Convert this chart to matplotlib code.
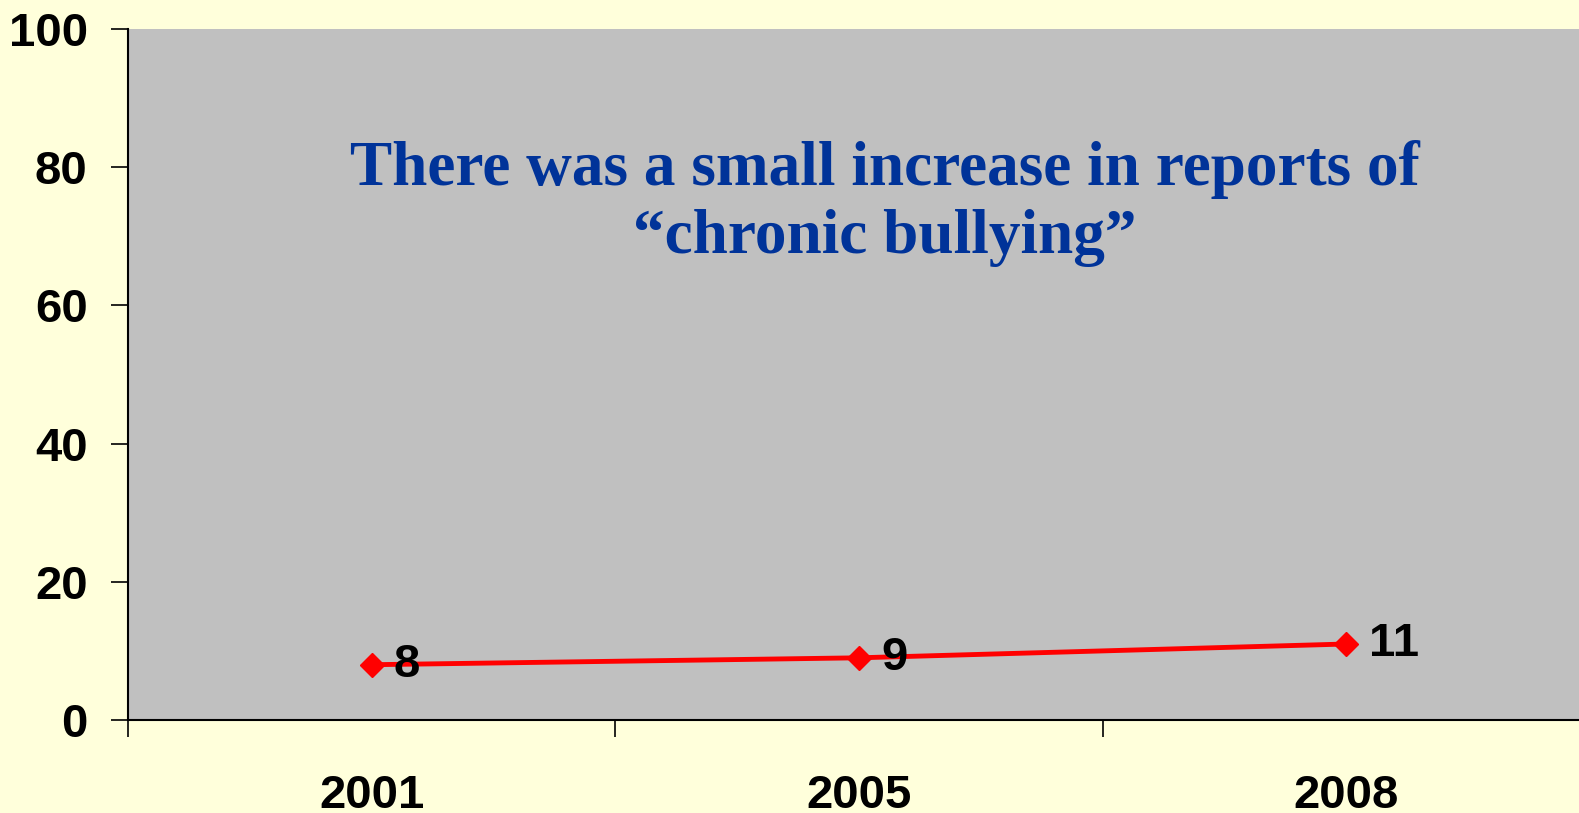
import numpy as np
import matplotlib
matplotlib.use("Agg")
import matplotlib.pyplot as plt

# chart data
years = ["2001", "2005", "2008"]
values = [8, 9, 11]
y_ticks = [0, 20, 40, 60, 80, 100]
title_lines = ["There was a small increase in reports of", "\u201cchronic bullying\u201d"]

bg = "#FFFFDB"
panel = "#C0C0C0"

W, H = 1579, 813
fig = plt.figure(figsize=(W / 100, H / 100), dpi=100, facecolor=bg)

# axes box: left 128px, top 29px, bottom 720px, right runs past the edge
left, right, top, bottom = 128, 1590, 29, 720
ax = fig.add_axes([left / W, 1 - bottom / H, (right - left) / W, (bottom - top) / H])
ax.set_facecolor(panel)

x = np.arange(len(years))
ax.plot(x, values, color="red", linewidth=3.5, marker="D", markersize=12,
        markeredgecolor="red", markerfacecolor="red", zorder=3)

for xi, v in zip(x, values):
    ax.annotate(str(v), (xi, v), xytext=(16, 0), textcoords="offset points",
                ha="left", va="center", fontsize=34, fontweight="bold",
                family="Liberation Sans", color="black")

ax.set_xlim(-0.5, len(years) - 0.5)
ax.set_ylim(0, 100)

ax.set_yticks(y_ticks)
ax.set_yticklabels([str(t) for t in y_ticks])
ax.tick_params(axis="y", direction="out", length=12, width=1.2, pad=17,
               labelsize=34, colors="black")

# category boundaries as major ticks, labels on minor ticks
ax.set_xticks(np.arange(-0.5, len(years), 1.0))
ax.set_xticklabels([])
ax.set_xticks(x, minor=True)
ax.set_xticklabels(years, minor=True)
ax.tick_params(axis="x", which="major", direction="out", length=12, width=1.2)
ax.tick_params(axis="x", which="minor", length=0, pad=39, labelsize=34)

for lab in ax.get_yticklabels() + ax.get_xticklabels(minor=True):
    lab.set_fontweight("bold")
    lab.set_family("Liberation Sans")

for s in ["top", "right"]:
    ax.spines[s].set_visible(False)
for s in ["left", "bottom"]:
    ax.spines[s].set_linewidth(1.5)
    ax.spines[s].set_color("black")

fig.text(885 / W, 1 - 185 / H, title_lines[0], ha="center", va="baseline",
         fontsize=45.5, fontweight="bold", family="Liberation Serif", color="#003399")
fig.text(885 / W, 1 - 253 / H, title_lines[1], ha="center", va="baseline",
         fontsize=45.5, fontweight="bold", family="Liberation Serif", color="#003399")

fig.savefig("out.png", dpi=100, facecolor=bg)
